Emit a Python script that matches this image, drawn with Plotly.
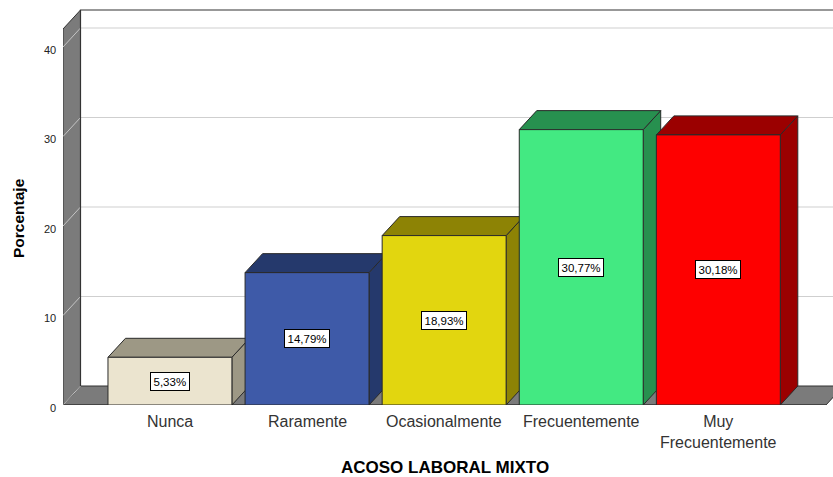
import plotly.graph_objects as go

# ---- data -------------------------------------------------------------
categories = ["Nunca", "Raramente", "Ocasionalmente", "Frecuentemente", "Muy<br>Frecuentemente"]
percentages = [5.33, 14.79, 18.93, 30.77, 30.18]
value_labels = ["5,33%", "14,79%", "18,93%", "30,77%", "30,18%"]
y_ticks = [0, 10, 20, 30, 40]

# ---- styling ------------------------------------------------------------
front_colors = ["#ebe4cf", "#3e5aa8", "#e2d60f", "#43e982", "#fe0000"]
shade_colors = ["#9d9885", "#25396c", "#8d8305", "#27904f", "#9b0000"]
WALL = "#7b7b7b"
EDGE = "#2a2a2a"
FONT = "Arial, Liberation Sans, sans-serif"

W, H = 833, 477
M_L, M_R, M_T, M_B = 63, 0, 8, 72
PX_X = 137.1          # pixels per category step
PX_Y = 8.95           # pixels per percentage point
plot_w = W - M_L - M_R
plot_h = H - M_T - M_B

X_MIN = -0.78
X_MAX = X_MIN + plot_w / PX_X
Y_TOP = plot_h / PX_Y
DX = 17.5 / PX_X       # depth offset (x)
DY = 19.0 / PX_Y       # depth offset (y)
WALL_TOP = (M_T + plot_h - 10) / PX_Y      # back-wall top edge
FLOOR_RIGHT = (826 - M_L) / PX_X + X_MIN   # front-right end of the floor
HALF = 0.452           # half bar width in category units


def poly(xs, ys, fill, line_color=EDGE, width=1):
    return go.Scatter(
        x=list(xs) + [xs[0]], y=list(ys) + [ys[0]],
        mode="lines", fill="toself", fillcolor=fill,
        line=dict(color=line_color, width=width),
        hoverinfo="skip", showlegend=False,
    )


def seg(xs, ys, color, width=1):
    return go.Scatter(
        x=xs, y=ys, mode="lines", line=dict(color=color, width=width),
        hoverinfo="skip", showlegend=False,
    )


fig = go.Figure()

# floor and left wall
fig.add_trace(poly([X_MIN, FLOOR_RIGHT, FLOOR_RIGHT + DX, X_MIN + DX], [0, 0, DY, DY], WALL, "#333333"))
fig.add_trace(poly([X_MIN, X_MIN, X_MIN + DX, X_MIN + DX], [0, WALL_TOP - DY, WALL_TOP, DY], WALL, "#333333"))

# grid: diagonals on the side wall, horizontals on the back wall
for t in y_ticks:
    fig.add_trace(seg([X_MIN, X_MIN + DX], [t, t + DY], "#c4c4c4"))
    if t > 0:
        fig.add_trace(seg([X_MIN + DX, X_MAX], [t + DY, t + DY], "#cfcfcf"))

# back wall border and front edge of the floor
fig.add_trace(seg([X_MIN + DX, X_MIN + DX, X_MAX], [DY, WALL_TOP, WALL_TOP], "#333333", 1.2))
fig.add_trace(seg([X_MIN, FLOOR_RIGHT], [0, 0], "#333333", 1.2))

# 3-D bars: side, top, then front face
for i, v in enumerate(percentages):
    x0, x1 = i - HALF, i + HALF
    fig.add_trace(poly([x1, x1 + DX, x1 + DX, x1], [0, DY, v + DY, v], shade_colors[i]))
    fig.add_trace(poly([x0, x1, x1 + DX, x0 + DX], [v, v, v + DY, v + DY], shade_colors[i]))
    fig.add_trace(poly([x0, x1, x1, x0], [0, 0, v, v], front_colors[i]))

annotations = []
# value boxes in the middle of each front face
for i, (v, lab) in enumerate(zip(percentages, value_labels)):
    annotations.append(dict(
        x=i, y=v / 2, xref="x", yref="y", text=lab, showarrow=False,
        font=dict(family=FONT, size=11.5, color="#000000"),
        bgcolor="#ffffff", bordercolor="#000000", borderwidth=1, borderpad=2.5,
    ))

# percentage tick labels beside the front edge of the side wall
for t in y_ticks:
    annotations.append(dict(
        x=X_MIN, y=t, xref="x", yref="y", text=str(t), showarrow=False,
        xanchor="right", yanchor="middle", xshift=-5, yshift=-2.5,
        font=dict(family=FONT, size=11, color="#222222"),
    ))


def py(pixel_y):
    return (M_T + plot_h - pixel_y) / plot_h


# category labels under the floor
for i, lab in enumerate(categories):
    annotations.append(dict(
        x=i, y=py(411), xref="x", yref="paper", text=lab,
        showarrow=False, yanchor="top", xanchor="center",
        font=dict(family=FONT, size=16, color="#333333"),
    ))

# axis titles
annotations.append(dict(
    x=(445 - M_L) / plot_w, y=py(467), xref="paper", yref="paper",
    text="<b>ACOSO LABORAL MIXTO</b>", showarrow=False, yanchor="middle",
    font=dict(family=FONT, size=17, color="#000000"),
))
annotations.append(dict(
    x=(18 - M_L) / plot_w, y=py(218), xref="paper", yref="paper",
    text="<b>Porcentaje</b>", showarrow=False, textangle=-90,
    xanchor="center", yanchor="middle",
    font=dict(family=FONT, size=15.5, color="#000000"),
))

fig.update_layout(
    width=W, height=H,
    margin=dict(l=M_L, r=M_R, t=M_T, b=M_B),
    paper_bgcolor="#ffffff", plot_bgcolor="#ffffff",
    showlegend=False,
    annotations=annotations,
    xaxis=dict(range=[X_MIN, X_MAX], showgrid=False, zeroline=False,
               showline=False, showticklabels=False, ticks="", fixedrange=True),
    yaxis=dict(range=[0, Y_TOP], showgrid=False, zeroline=False,
               showline=False, showticklabels=False, ticks="", fixedrange=True),
)

fig.write_html("out.html", config={"displayModeBar": False})
